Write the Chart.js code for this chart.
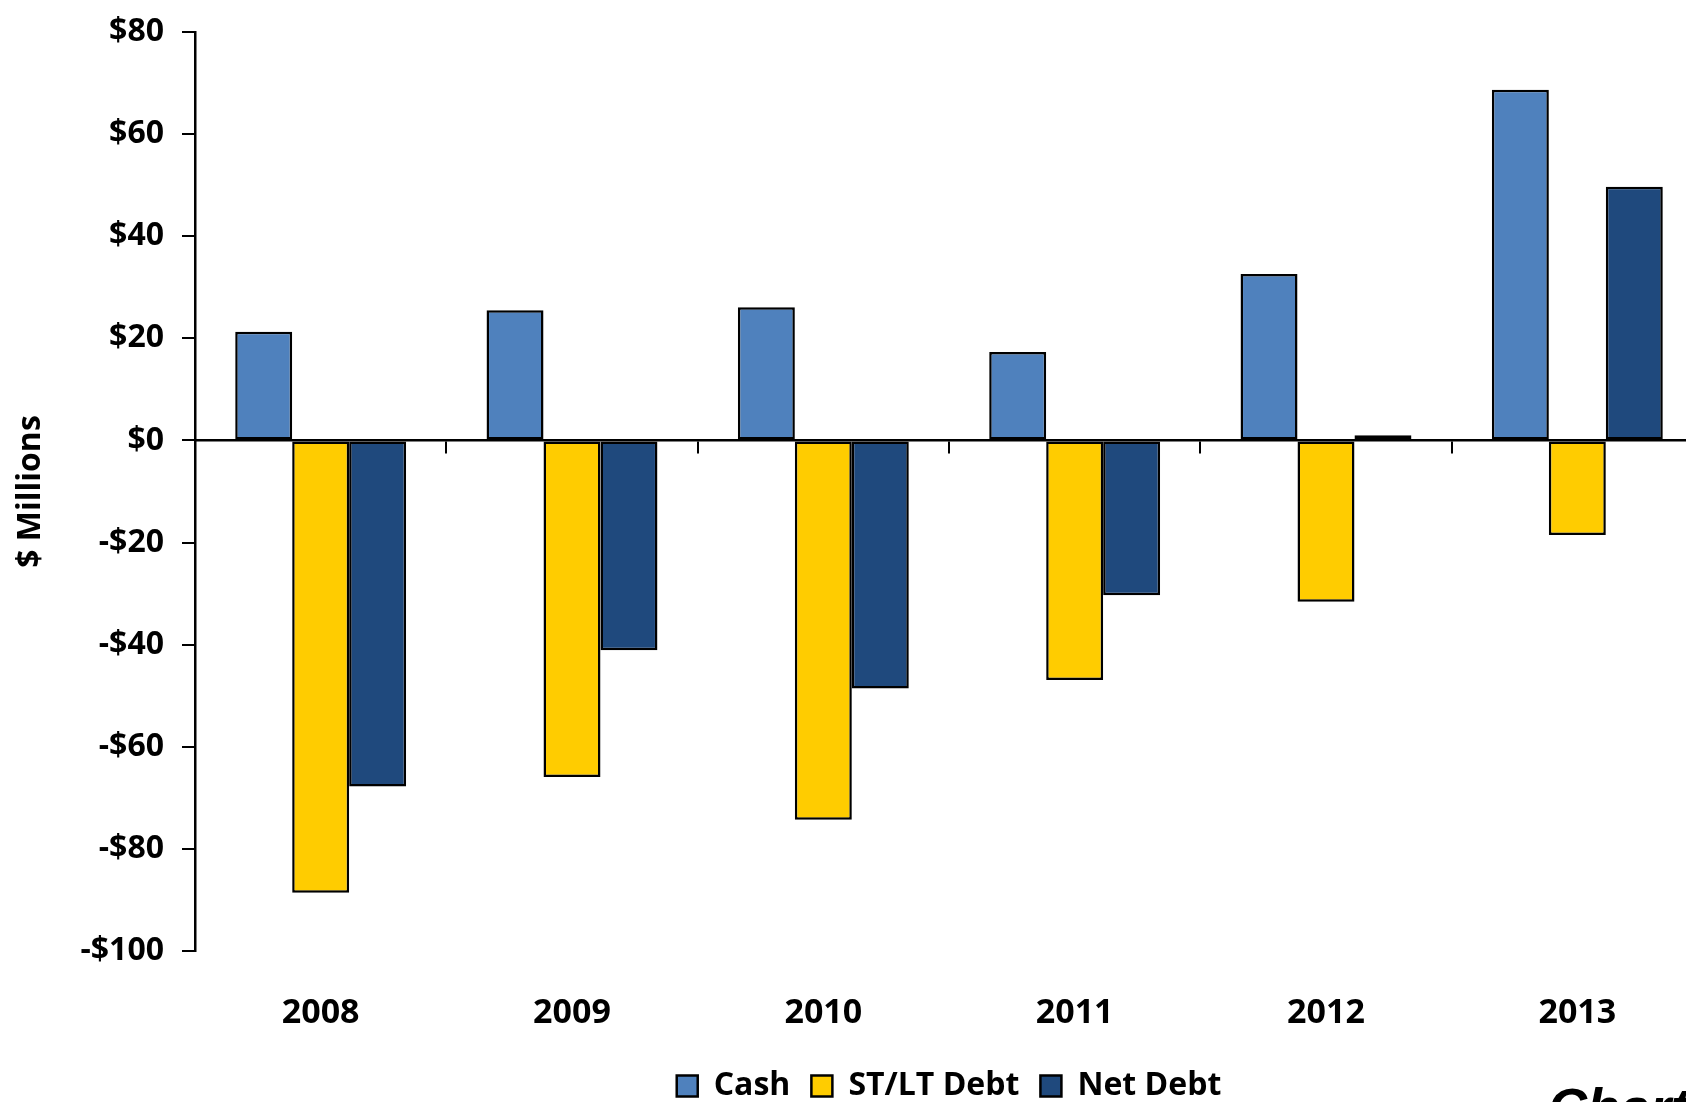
<!DOCTYPE html>
<html>
<head>
<meta charset="utf-8">
<script src="https://cdn.jsdelivr.net/npm/chart.js@4"></script>
<style>
  html, body { margin: 0; padding: 0; background: #fff; overflow: hidden; }
  body { width: 1686px; height: 1102px; position: relative; }
  #wrap { position: absolute; left: 0; top: 0; width: 1703px; height: 1112px; }
  #tag {
    position: absolute; left: 1548px; top: 1080px;
    font: italic bold 54px "Liberation Sans", Arial, sans-serif;
    line-height: 1; color: #000; white-space: nowrap;
  }
</style>
</head>
<body>
<div id="wrap"><canvas id="myChart" width="1703" height="1112"></canvas></div>
<div id="tag">Chart</div>
<script>
// years along the bottom
let years = ["2008", "2009", "2010", "2011", "2012", "2013"];

// $ millions per year
let cash = [21.3, 25.5, 26.1, 17.3, 32.6, 68.7];
let debt = [-88.6, -65.9, -74.3, -46.9, -31.6, -18.5];
let netDebt = [-67.8, -41.1, -48.6, -30.3, 1.0, 49.7];

let yMin = -100;
let yMax = 80;
let yStep = 20;

const font = "'Open Sans', 'Noto Sans', sans-serif";

function money(v) {
  return (v < 0 ? "-$" : "$") + Math.abs(v);
}

function bar(label, data, color) {
  return {
    label: label,
    data: data,
    backgroundColor: color,
    borderColor: "#000",
    borderWidth: 2.5,
    borderSkipped: false,
    categoryPercentage: 0.68,
    barPercentage: 1.0
  };
}

var chart = new Chart("myChart", {
  type: "bar",
  data: {
    labels: years,
    datasets: [
      bar("Cash", cash, "#4F81BD"),
      bar("ST/LT Debt", debt, "#FFCC00"),
      bar("Net Debt", netDebt, "#1F497D")
    ]
  },
  options: {
    responsive: false,
    animation: false,
    layout: { padding: 0 },
    plugins: {
      tooltip: { enabled: false },
      legend: {
        position: "bottom",
        fullSize: false,
        labels: {
          color: "#000",
          font: { family: font, size: 32, weight: "bold" },
          boxWidth: 21,
          boxHeight: 21,
          padding: 21
        }
      }
    },
    scales: {
      x: {
        grid: { display: false, drawTicks: false },
        border: { display: false },
        ticks: {
          color: "#000",
          padding: 42,
          font: { family: font, size: 34, weight: "bold" }
        },
        afterFit: function (s) { s.height = 98; }
      },
      // zero line with short marks between the years
      zero: {
        type: "category",
        axis: "x",
        labels: years,
        position: { y: 0 },
        offset: true,
        grid: {
          offset: true,
          drawOnChartArea: false,
          drawTicks: true,
          tickLength: 12,
          color: "#000",
          lineWidth: 2
        },
        border: { display: true, color: "#000", width: 2.5 },
        ticks: { display: false }
      },
      y: {
        min: yMin,
        max: yMax,
        ticks: {
          stepSize: yStep,
          color: "#000",
          padding: 18,
          font: { family: font, size: 32, weight: "bold" },
          callback: function (v) { return money(v); }
        },
        grid: {
          drawOnChartArea: false,
          drawTicks: true,
          tickLength: 13,
          color: "#000",
          lineWidth: 2
        },
        border: { display: true, color: "#000", width: 2.5 },
        title: {
          display: true,
          text: "$ Millions",
          color: "#000",
          padding: { top: 12, bottom: 0 },
          font: { family: font, size: 32, weight: "bold" }
        },
        afterFit: function (s) {
          s.width = 195;
          s.paddingTop = 32;
        }
      }
    }
  }
});
</script>
</body>
</html>
